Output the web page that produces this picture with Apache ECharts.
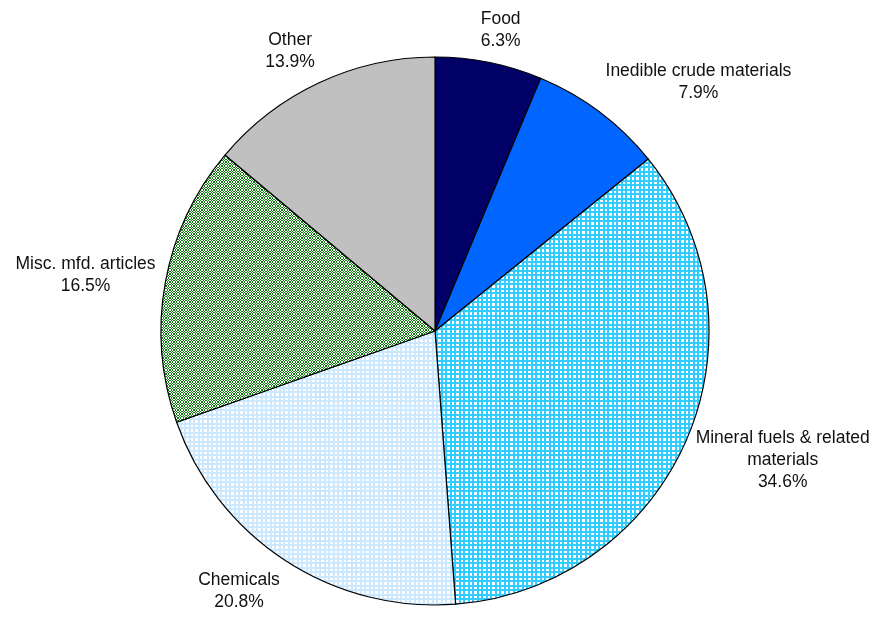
<!DOCTYPE html>
<html>
<head>
<meta charset="utf-8">
<script src="https://cdn.jsdelivr.net/npm/echarts@6/dist/echarts.min.js"></script>
<style>
  html, body { margin: 0; padding: 0; background: #fff; }
  #chart { width: 880px; height: 619px; }
</style>
</head>
<body>
<div id="chart"></div>
<script>
const categories = ['Food', 'Inedible crude materials', 'Mineral fuels & related\nmaterials', 'Chemicals', 'Misc. mfd. articles', 'Other'];
const shares = [6.3, 7.9, 34.6, 20.8, 16.5, 13.9];

const cx = 435, cy = 331, radius = 274;

// little tiles for the hatched slices
function gridTile(lineColor) {
    let c = document.createElement('canvas')
    c.width = 9
    c.height = 9
    let ctx = c.getContext('2d')
    ctx.fillStyle = '#ffffff'
    ctx.fillRect(0, 0, 9, 9)
    ctx.fillStyle = lineColor
    ctx.fillRect(0, 0, 9, 2)
    ctx.fillRect(0, 4, 9, 2)
    ctx.fillRect(0, 0, 2, 9)
    ctx.fillRect(4, 0, 2, 9)
    return c
}
// checkerboard with cells of roughly 1.33px
function checkTile(color) {
    let edges = [0, 1, 3, 4, 5, 7, 8]
    let c = document.createElement('canvas')
    c.width = 8
    c.height = 8
    let ctx = c.getContext('2d')
    ctx.fillStyle = '#ffffff'
    ctx.fillRect(0, 0, 8, 8)
    ctx.fillStyle = color
    for (let i = 0; i < 6; i++) {
        for (let j = 0; j < 6; j++) {
            if ((i + j) % 2 == 0) {
                ctx.fillRect(edges[i], edges[j], edges[i + 1] - edges[i], edges[j + 1] - edges[j])
            }
        }
    }
    return c
}

const fills = [
    '#000066',
    '#0066ff',
    { image: gridTile('#33ccff'), repeat: 'repeat' },
    { image: gridTile('#cce8ff'), repeat: 'repeat' },
    { image: checkTile('#0a7a0a'), repeat: 'repeat' },
    '#c0c0c0'
];

// mid angle of every slice, clockwise from 12 o'clock
let total = shares.reduce((a, b) => a + b, 0)
let midAngles = []
let acc = 0
shares.forEach(function (v) {
    midAngles.push((acc + v / 2) / total * Math.PI * 2)
    acc += v
})

function clamp1(v) {
    return Math.max(-1, Math.min(1, v))
}

var myChart = echarts.init(document.getElementById('chart'))

var option = {
    backgroundColor: '#ffffff',
    animation: false,
    series: [{
        type: 'pie',
        center: [cx, cy],
        radius: radius,
        startAngle: 90,
        clockwise: true,
        data: categories.map(function (name, i) {
            return { name: name, value: shares[i], itemStyle: { color: fills[i] } }
        }),
        itemStyle: {
            borderColor: '#000000',
            borderWidth: 1.2
        },
        label: {
            show: true,
            position: 'outside',
            formatter: function (p) {
                return p.name + '\n' + p.value.toFixed(1) + '%'
            },
            overflow: 'none',
            fontFamily: 'Liberation Sans, Arial, sans-serif',
            fontSize: 17.5,
            lineHeight: 22,
            color: '#111111'
        },
        labelLine: { show: false },
        // label pushed off a point just outside the rim, on the slice's mid angle
        labelLayout: function (params) {
            let a = midAngles[params.dataIndex]
            let dx = Math.sin(a), dy = -Math.cos(a)
            let hw = params.labelRect.width / 2
            let hh = params.labelRect.height / 2
            let r = radius + 10
            return {
                x: cx + dx * r + clamp1(dx / 0.4) * hw,
                y: cy + dy * r + clamp1(dy / 0.8) * hh,
                align: 'center',
                verticalAlign: 'middle'
            }
        }
    }]
};

myChart.setOption(option);
</script>
</body>
</html>
